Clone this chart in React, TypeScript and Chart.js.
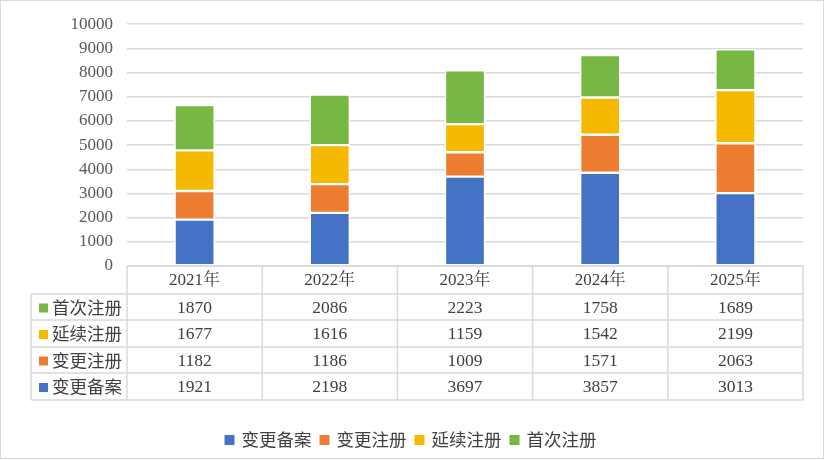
import React, { useEffect, useRef } from 'react';
import Chart from 'chart.js/auto';

const years = ['2021年', '2022年', '2023年', '2024年', '2025年'];
const seriesNames = ['变更备案', '变更注册', '延续注册', '首次注册'];
const changeFiling = [1921, 2198, 3697, 3857, 3013];
const changeReg = [1182, 1186, 1009, 1571, 2063];
const renewalReg = [1677, 1616, 1159, 1542, 2199];
const firstReg = [1870, 2086, 2223, 1758, 1689];
const colors = ['#4472C4', '#ED7D31', '#F5BA00', '#76B843'];

const SERIF = '"Liberation Serif", "Noto Serif CJK SC", "Noto Sans CJK SC", serif';
const CJK = '"Noto Sans CJK SC", sans-serif';
const GRID = '#d9d9d9';
const TEXT = '#404040';

// draws the data table under the plot, the legend and the outer frame
const tablePlugin = {
  id: 'dataTable',
  afterDraw(chart: any) {
    const ctx = chart.ctx;
    const area = chart.chartArea;
    const xs = chart.scales.x;
    const n = years.length;
    const colW = (area.right - area.left) / n;
    const labelLeft = 31;
    const rowsY = [area.bottom, 294, 320, 347, 373, 400];

    ctx.save();
    ctx.strokeStyle = GRID;
    ctx.lineWidth = 1.5;
    ctx.beginPath();
    ctx.moveTo(area.left, rowsY[0]);
    ctx.lineTo(area.right, rowsY[0]);
    for (let r = 1; r < rowsY.length; r++) {
      ctx.moveTo(labelLeft, rowsY[r]);
      ctx.lineTo(area.right, rowsY[r]);
    }
    for (let c = 0; c <= n; c++) {
      const x = area.left + c * colW;
      ctx.moveTo(x, rowsY[0]);
      ctx.lineTo(x, rowsY[rowsY.length - 1]);
    }
    ctx.moveTo(labelLeft, rowsY[1]);
    ctx.lineTo(labelLeft, rowsY[rowsY.length - 1]);
    ctx.stroke();

    ctx.fillStyle = TEXT;
    ctx.textAlign = 'center';
    ctx.textBaseline = 'middle';
    ctx.font = '17px ' + SERIF;
    years.forEach((y, i) => {
      ctx.fillText(y, xs.getPixelForValue(i), (rowsY[0] + rowsY[1]) / 2 + 1);
    });

    const ds = chart.data.datasets;
    for (let r = 0; r < ds.length; r++) {
      const d = ds[ds.length - 1 - r];
      const yMid = (rowsY[r + 1] + rowsY[r + 2]) / 2 + 1;
      ctx.fillStyle = d.backgroundColor;
      ctx.fillRect(39, yMid - 4.5, 9, 9);
      ctx.fillStyle = TEXT;
      ctx.textAlign = 'left';
      ctx.font = '17.5px ' + CJK;
      ctx.fillText(d.label, 52, yMid - 1);
      ctx.textAlign = 'center';
      ctx.font = '17.5px ' + SERIF;
      d.data.forEach((v: number, i: number) => {
        ctx.fillText(String(v), xs.getPixelForValue(i), yMid);
      });
    }

    // legend
    ctx.font = '17.5px ' + CJK;
    const box = 10;
    const gap = 7;
    const itemGap = 8;
    const widths = ds.map((d: any) => box + gap + ctx.measureText(d.label).width);
    const total = widths.reduce((a: number, b: number) => a + b, 0) + itemGap * (ds.length - 1);
    let x = 410.5 - total / 2;
    const ly = 440;
    ds.forEach((d: any, i: number) => {
      ctx.fillStyle = d.backgroundColor;
      ctx.fillRect(x, ly - box / 2, box, box);
      ctx.fillStyle = TEXT;
      ctx.textAlign = 'left';
      ctx.fillText(d.label, x + box + gap, ly - 1);
      x += widths[i] + itemGap;
    });

    ctx.strokeStyle = GRID;
    ctx.lineWidth = 1;
    ctx.strokeRect(0.5, 0.5, 823, 458);
    ctx.restore();
  },
};

export default function App() {
  const canvasRef = useRef<HTMLCanvasElement | null>(null);

  useEffect(() => {
    if (!canvasRef.current) return;
    const values = [changeFiling, changeReg, renewalReg, firstReg];
    const chart = new Chart(canvasRef.current, {
      type: 'bar',
      data: {
        labels: years,
        datasets: seriesNames.map((name, i) => ({
          label: name,
          data: values[i],
          backgroundColor: colors[i],
          borderColor: '#ffffff',
          borderWidth: 1.5,
          borderSkipped: false,
          barThickness: 40,
        })),
      },
      options: {
        animation: false,
        responsive: false,
        devicePixelRatio: 1,
        layout: { padding: { left: 0, right: 22, top: 22, bottom: 194 } },
        plugins: { legend: { display: false }, tooltip: { enabled: false } },
        scales: {
          x: { stacked: true, display: false },
          y: {
            stacked: true,
            min: 0,
            max: 10000,
            ticks: {
              stepSize: 1000,
              padding: 14,
              color: '#595959',
              font: { family: SERIF, size: 17 },
              callback: (v: any) => String(v),
            },
            grid: { color: GRID, lineWidth: 1.5, drawTicks: false },
            border: { display: false },
            afterFit: (s: any) => {
              s.width = 127;
            },
          },
        },
      },
      plugins: [tablePlugin],
    });
    return () => chart.destroy();
  }, []);

  return (
    <div style={{ position: 'fixed', left: 0, top: 0, width: 825, height: 460, background: '#fff' }}>
      <canvas ref={canvasRef} width={825} height={460} />
    </div>
  );
}
